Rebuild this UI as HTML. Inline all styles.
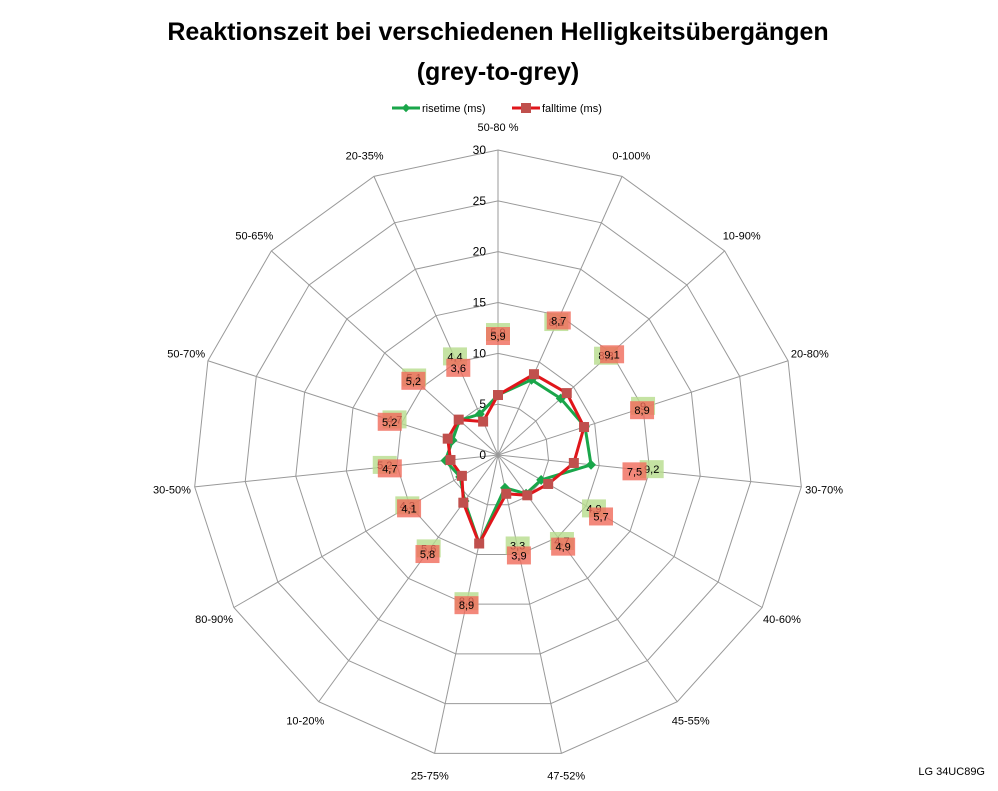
<!DOCTYPE html>
<html><head><meta charset="utf-8">
<style>
body{margin:0;background:#fff;font-family:"Liberation Sans",sans-serif;}
svg text{font-family:"Liberation Sans",sans-serif;}
</style></head>
<body>
<svg width="998" height="786">
<text x="498" y="40" text-anchor="middle" font-size="25" font-weight="bold">Reaktionszeit bei verschiedenen Helligkeitsübergängen</text>
<text x="498" y="80" text-anchor="middle" font-size="25" font-weight="bold">(grey-to-grey)</text>
<g>
<g>
<line x1="392" y1="108" x2="420" y2="108" stroke="#1aa64a" stroke-width="3"/>
<rect x="403" y="105" width="6" height="6" fill="#1aa64a" transform="rotate(45 406 108)"/>
<text x="422" y="112" font-size="11">risetime (ms)</text></g>
<g>
<line x1="512" y1="108" x2="540" y2="108" stroke="#e0161b" stroke-width="3"/>
<rect x="521" y="103" width="10" height="10" fill="#c0504d"/>
<text x="542" y="112" font-size="11">falltime (ms)</text></g>
</g>
<g id="grid"></g>
<g id="series"></g>
<g id="labels"></g>
<text x="985" y="775" text-anchor="end" font-size="11">LG 34UC89G</text>
</svg>
<script>
const categories=["50-80 %","0-100%","10-90%","20-80%","30-70%","40-60%","45-55%","47-52%","25-75%","10-20%","80-90%","30-50%","50-70%","50-65%","20-35%"];
const risetime=[5.9,8.1,8.3,9.0,9.2,4.9,4.7,3.3,8.9,5.6,4.3,5.2,4.7,5.1,4.4];
const falltime=[5.9,8.7,9.1,8.9,7.5,5.7,4.9,3.9,8.9,5.8,4.1,4.7,5.2,5.2,3.6];
const ticks=[0,5,10,15,20,25,30];
const cx=498,cy=455,R=305,maxV=30;
const NS="http://www.w3.org/2000/svg";
function mk(t,a,p){const e=document.createElementNS(NS,t);for(const k in a)e.setAttribute(k,a[k]);p.appendChild(e);return e;}
function ang(i){return (i*360/categories.length-90)*Math.PI/180;}
function pt(i,v){const r=v/maxV*R;return [cx+r*Math.cos(ang(i)),cy+r*Math.sin(ang(i))];}
const grid=document.getElementById('grid'),series=document.getElementById('series'),labels=document.getElementById('labels');
ticks.forEach(t=>{if(t===0)return;const pts=categories.map((c,i)=>pt(i,t).join(',')).join(' ');
const p=mk('polygon',{points:pts,fill:'none',stroke:'#999','stroke-width':1},grid);

});
categories.forEach((c,i)=>{const [x,y]=pt(i,maxV);
const l=mk('line',{x1:cx,y1:cy,x2:x,y2:y,stroke:'#999','stroke-width':1},grid);


const [lx,ly]=pt(i,maxV*1.075);
const t=mk('text',{x:lx,y:ly+4,'text-anchor':'middle','font-size':11},grid);t.textContent=c;

});
ticks.forEach(t=>{const tx=mk('text',{x:cx-12,y:cy-t/maxV*R+4,'text-anchor':'end','font-size':12},grid);tx.textContent=t;

});
function draw(vals,color,mcol,name,square){
const g=mk('g',{},series);


const pts=vals.map((v,i)=>pt(i,v).join(',')).join(' ');
mk('polygon',{points:pts,fill:'none',stroke:color,'stroke-width':3},g);
vals.forEach((v,i)=>{const [x,y]=pt(i,v);let m;
if(square)m=mk('rect',{x:x-5,y:y-5,width:10,height:10,fill:mcol},g);
else m=mk('rect',{x:x-3.5,y:y-3.5,width:7,height:7,fill:mcol,transform:`rotate(45 ${x} ${y})`},g);

});}
draw(risetime,'#1aa64a','#1aa64a','risetime',false);
draw(falltime,'#e0161b','#c0504d','falltime',true);
function lab(vals,bg,name,dy){vals.forEach((v,i)=>{const [x,y]=pt(i,v+6);
const g=mk('g',{},labels);


mk('rect',{x:x-12,y:y-9+dy,width:24,height:18,fill:bg,opacity:0.8},g);
const t=mk('text',{x:x,y:y+4+dy,'text-anchor':'middle','font-size':11},g);t.textContent=String(v).replace('.',',');});}
lab(risetime,'#b6dc8c','risetime',-2);
lab(falltime,'#f06a5a','falltime',2);
</script>
</body></html>
